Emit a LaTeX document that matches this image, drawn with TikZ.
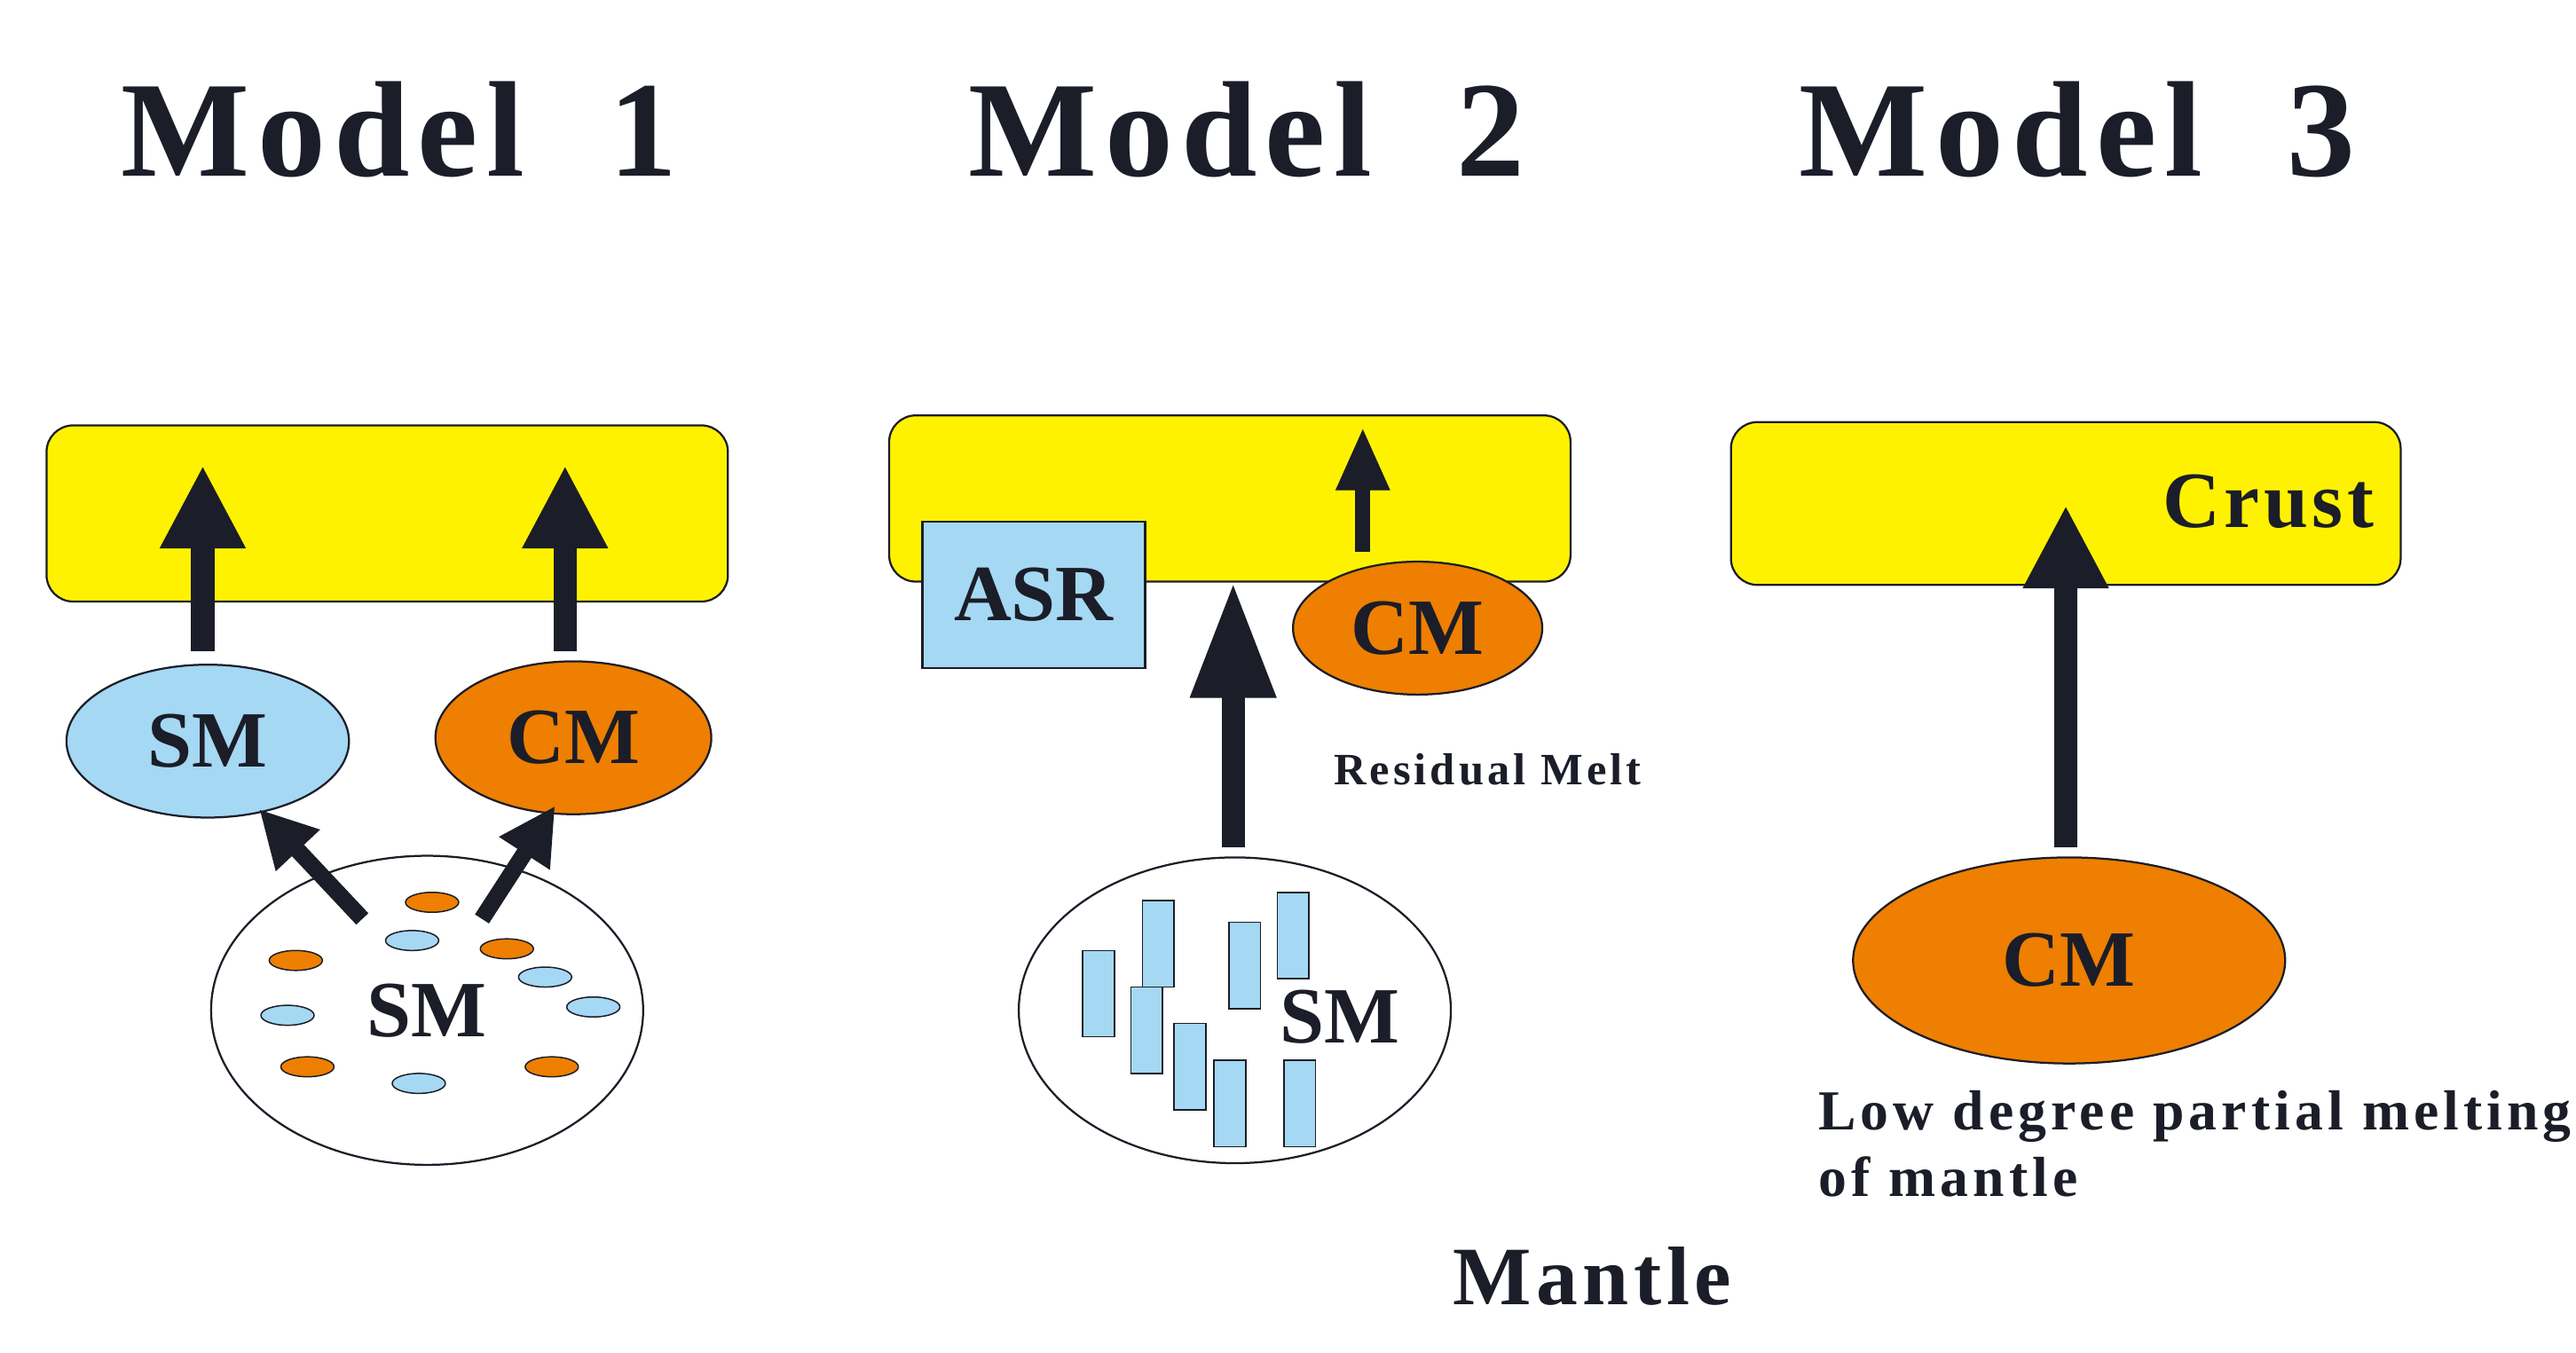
\documentclass[tikz,border=0pt]{standalone}
\usepackage{fontspec}
\setmainfont{Liberation Serif}
\usetikzlibrary{arrows.meta,shapes.geometric}
\definecolor{yel}{HTML}{FFF200}
\definecolor{lb}{HTML}{A5D8F3}
\definecolor{org}{HTML}{EE7F00}
\definecolor{ink}{HTML}{1B1D28}
\begin{document}
\begin{tikzpicture}[x=1pt,y=-1pt,
 title/.style={font=\fontsize{82}{82}\selectfont\bfseries\addfontfeature{LetterSpace=6},text=ink},
 lab/.style={font=\fontsize{48}{48}\selectfont\bfseries,text=ink},
 small/.style={font=\fontsize{28}{30}\selectfont\bfseries\addfontfeature{LetterSpace=8},text=ink},
 box/.style={draw=ink,line width=1.2pt,fill=yel,rounded corners=16pt},
 ell/.style={ellipse,draw=ink,line width=1.2pt,inner sep=0pt},
 big/.style={line width=14pt,draw=ink,-{Triangle[width=48pt,length=50pt]}},
 dot/.style={ellipse,draw=ink,line width=0.8pt,minimum width=32pt,minimum height=12pt,inner sep=0pt},
 bar/.style={draw=ink,line width=0.8pt,fill=lb}]
\useasboundingbox (0,0) rectangle (1550,814);
\node[title] (t1) at (240,78) {Model~~1};
\node[title] (t2) at (750,78) {Model~~2};
\node[title] (t3) at (1250,78) {Model~~3};
% Model 1
\node[box,minimum width=410pt,minimum height=106pt] (b1) at (233,309) {};
\node[ell,fill=lb,minimum width=170pt,minimum height=92pt,lab] (sm1) at (125,446) {SM};
\node[ell,fill=org,minimum width=166pt,minimum height=92pt,lab] (cm1) at (345,444) {CM};
\node[ell,fill=white,minimum width=260pt,minimum height=186pt] (m1) at (257,608) {};
\foreach \x/\y [count=\i] in {260/543,178/578,305/571,185/642,332/642}
  \node[dot,fill=org] (o\i) at (\x,\y) {};
\foreach \x/\y [count=\i] in {248/566,328/588,173/611,357/606,252/652}
  \node[dot,fill=lb] (l\i) at (\x,\y) {};
\node[lab] (sml) at (257,608) {SM};
\coordinate (a1s) at (122,392); \coordinate (a1e) at (122,280);
\coordinate (a2s) at (340,392); \coordinate (a2e) at (340,280);
\draw[big] (a1s) -- (a1e);
\draw[big] (a2s) -- (a2e);
\coordinate (d1s) at (218,553); \coordinate (d1e) at (156,487);
\coordinate (d2s) at (290,553); \coordinate (d2e) at (334,485);
\draw[line width=10pt,draw=ink,-{Triangle[width=34pt,length=34pt]}] (d1s) -- (d1e);
\draw[line width=10pt,draw=ink,-{Triangle[width=34pt,length=34pt]}] (d2s) -- (d2e);
% Model 2
\node[box,minimum width=410pt,minimum height=100pt] (b2) at (740,300) {};
\node[draw=ink,line width=1.2pt,fill=lb,minimum width=134pt,minimum height=88pt,lab] (asr) at (622,358) {ASR};
\node[ell,fill=org,minimum width=150pt,minimum height=80pt,lab] (cm2) at (853,378) {CM};
\coordinate (s2s) at (820,332); \coordinate (s2e) at (820,257);
\draw[line width=9pt,draw=ink,-{Triangle[width=30pt,length=38pt]}] (s2s) -- (s2e);
\coordinate (b2s) at (742,510); \coordinate (b2e) at (742,350);
\draw[line width=14pt,draw=ink,-{Triangle[width=48pt,length=70pt]}] (b2s) -- (b2e);
\node[small,font=\fontsize{27}{30}\selectfont\bfseries\addfontfeature{LetterSpace=8}] (rm) at (895,463) {Residual Melt};
\node[ell,fill=white,minimum width=260pt,minimum height=184pt] (m2) at (743,608) {};
\foreach \x/\y [count=\i] in {661/598,697/568,690/620,749/581,778/563,716/642,740/664,782/664}
  \node[bar,minimum width=19pt,minimum height=52pt,inner sep=0pt] (r\i) at (\x,\y) {};
\node[lab] (sm2) at (806,612) {SM};
% Model 3
\node[box,minimum width=403pt,minimum height=98pt] (b3) at (1243,303) {};
\node[lab,font=\fontsize{48}{48}\selectfont\bfseries\addfontfeature{LetterSpace=5}] (cr) at (1365,302) {Crust};
\node[ell,fill=org,minimum width=260pt,minimum height=124pt,lab] (cm3) at (1245,578) {CM};
\coordinate (a3s) at (1243,510); \coordinate (a3e) at (1243,304);
\draw[line width=14pt,draw=ink,-{Triangle[width=48pt,length=50pt]}] (a3s) -- (a3e);
\node[font=\fontsize{34}{40}\selectfont\bfseries\addfontfeature{LetterSpace=8},text=ink,align=left,anchor=north west,inner sep=0pt] (low) at (1094,656) {Low degree partial melting\\of mantle};
\node[font=\fontsize{50}{50}\selectfont\bfseries\addfontfeature{LetterSpace=6},text=ink] (man) at (958,768) {Mantle};
\end{tikzpicture}
\end{document}
